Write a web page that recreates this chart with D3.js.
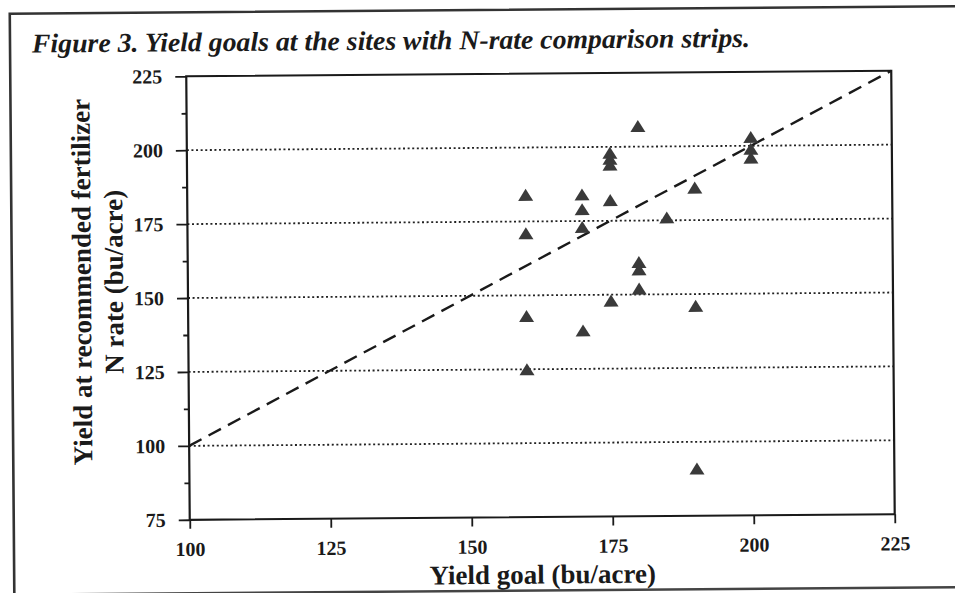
<!DOCTYPE html>
<html>
<head>
<meta charset="utf-8">
<script src="https://cdn.jsdelivr.net/npm/d3@7"></script>
<style>
  html, body { margin: 0; padding: 0; background: #fff; }
  svg { display: block; }
  text { font-family: "Liberation Serif", "Times New Roman", serif; fill: #1a1a1a; }
</style>
</head>
<body>
<svg id="chart" width="955" height="593"></svg>
<script>
// Yield goal (x) and yield at the recommended fertilizer N rate (y), bu/acre
const yieldGoal = [160, 160, 160, 160, 170, 170, 170, 170, 175, 175, 175, 175, 175,
                   180, 180, 180, 180, 185, 190, 190, 190, 200, 200, 200];
const yieldAtRecN = [184, 171, 143, 125, 184, 179, 173, 138, 198, 196, 194, 182, 148,
                     207, 161, 158.5, 152, 176, 186, 146, 91, 203, 199, 196];

const xTicks = [100, 125, 150, 175, 200, 225];
const yTicks = [75, 100, 125, 150, 175, 200, 225];
const yMinorTicks = [87.5, 112.5, 137.5, 162.5, 187.5, 212.5];
const gridValues = [100, 125, 150, 175, 200];
const oneToOne = [100, 225];

const titleText = "Figure 3. Yield goals at the sites with N-rate comparison strips.";
const xTitle = "Yield goal (bu/acre)";
const yTitleLines = ["Yield at recommended fertilizer", "N rate (bu/acre)"];

const W = 955, H = 593;
const plot = { left: 188, right: 893, top: 74, bottom: 517.5 };
const ink = "#1a1a1a";

const svg = d3.select("#chart");
svg.append("rect").attr("width", W).attr("height", H).attr("fill", "#fff");

// the printed page sits slightly askew
const page = svg.append("g").attr("transform", `rotate(-0.45 ${W / 2} ${H / 2})`);

// page frame
page.append("path")
  .attr("d", `M12,${H + 20} L12,10 L${W + 20},10`)
  .attr("fill", "none").attr("stroke", "#333").attr("stroke-width", 2.6);
page.append("line")
  .attr("x1", -10).attr("x2", W + 20).attr("y1", 591).attr("y2", 591)
  .attr("stroke", "#444").attr("stroke-width", 2.4);

// title
page.append("text")
  .attr("x", 34).attr("y", 49)
  .attr("font-size", 27).attr("font-weight", "bold").attr("font-style", "italic")
  .attr("textLength", 718).attr("lengthAdjust", "spacingAndGlyphs")
  .text(titleText);

const x = d3.scaleLinear().domain([100, 225]).range([plot.left, plot.right]);
const y = d3.scaleLinear().domain([75, 225]).range([plot.bottom, plot.top]);

// dotted reference lines
page.append("g").selectAll("line").data(gridValues).join("line")
  .attr("x1", plot.left).attr("x2", plot.right)
  .attr("y1", d => y(d)).attr("y2", d => y(d))
  .attr("stroke", "#222").attr("stroke-width", 1.8)
  .attr("stroke-dasharray", "2,2.6");

// 1:1 line
page.append("line")
  .attr("x1", x(oneToOne[0])).attr("y1", y(oneToOne[0]))
  .attr("x2", x(oneToOne[1])).attr("y2", y(oneToOne[1]))
  .attr("stroke", ink).attr("stroke-width", 2.4)
  .attr("stroke-dasharray", "14,8");

// plot box
page.append("rect")
  .attr("x", plot.left).attr("y", plot.top)
  .attr("width", plot.right - plot.left).attr("height", plot.bottom - plot.top)
  .attr("fill", "none").attr("stroke", ink).attr("stroke-width", 2.2);

// axes
const styleAxis = g => {
  g.select(".domain").remove();
  g.selectAll(".tick line").attr("stroke", ink).attr("stroke-width", 1.8);
  g.selectAll(".tick text")
    .attr("fill", ink)
    .attr("font-family", "Liberation Serif, Times New Roman, serif")
    .attr("font-weight", "bold").attr("font-size", 20);
};

page.append("g")
  .attr("transform", `translate(0,${plot.bottom})`)
  .call(d3.axisBottom(x).tickValues(xTicks).tickSize(9).tickPadding(13).tickFormat(d3.format("d")))
  .call(styleAxis);

page.append("g")
  .attr("transform", `translate(${plot.left},0)`)
  .call(d3.axisLeft(y).tickValues(yTicks).tickSize(11).tickPadding(13).tickFormat(d3.format("d")))
  .call(styleAxis);

page.append("g")
  .attr("transform", `translate(${plot.left},0)`)
  .call(d3.axisLeft(y).tickValues(yMinorTicks).tickSize(5).tickFormat(""))
  .call(styleAxis);

// axis titles
page.append("text")
  .attr("x", (plot.left + plot.right) / 2).attr("y", 584)
  .attr("text-anchor", "middle")
  .attr("font-size", 27).attr("font-weight", "bold")
  .text(xTitle);

const yMid = 279;
page.append("g")
  .attr("transform", `translate(91,${yMid}) rotate(-90)`)
  .selectAll("text").data(yTitleLines).join("text")
  .attr("x", 0).attr("y", (d, i) => i * 32)
  .attr("text-anchor", "middle")
  .attr("font-size", 27).attr("font-weight", "bold")
  .text(d => d);

// data points
const tri = "M0,-6 L7.5,6 L-7.5,6 Z";
page.append("g").selectAll("path").data(yieldGoal.map((g, i) => [g, yieldAtRecN[i]])).join("path")
  .attr("d", tri)
  .attr("transform", d => `translate(${x(d[0])},${y(d[1])})`)
  .attr("fill", "#3a3a3a");
</script>
</body>
</html>
